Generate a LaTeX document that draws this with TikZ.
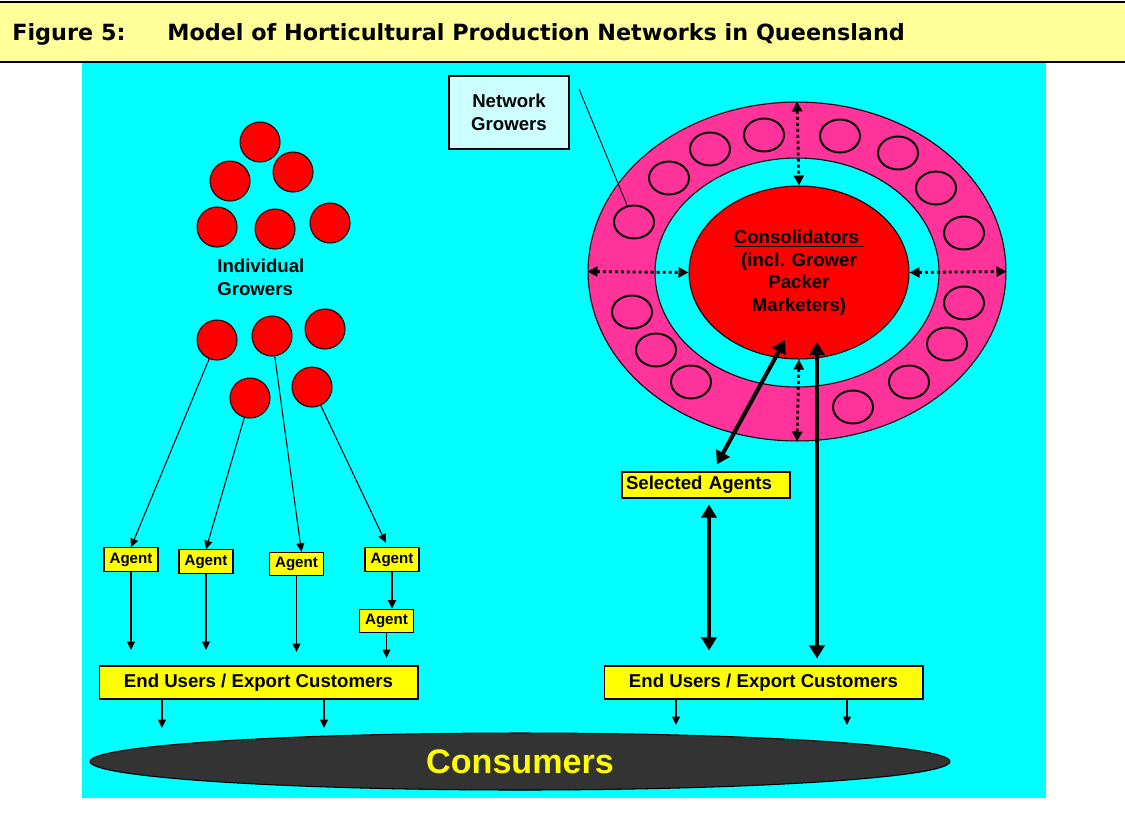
\documentclass[tikz,border=0pt]{standalone}
\usepackage{fontspec}
\setmainfont{Liberation Sans}
\newfontfamily\titlefont{DejaVu Sans}
\usetikzlibrary{shapes.geometric,arrows.meta}
\definecolor{titlebg}{HTML}{FFFF99}
\definecolor{panel}{HTML}{00FFFF}
\definecolor{ringpink}{HTML}{FF3399}
\definecolor{boxyellow}{HTML}{FFFF00}
\definecolor{notebg}{HTML}{CCFFFF}
\definecolor{consgrey}{HTML}{333333}

\begin{document}
\begin{tikzpicture}[x=0.02cm,y=-0.02cm,
    every node/.style={font=\bfseries\fontsize{10.6}{12.8}\selectfont},
    grower/.style={circle,draw,fill=red,minimum size=0.8cm,inner sep=0pt,line width=0.6pt},
    member/.style={ellipse,draw,line width=1.1pt,minimum width=0.8cm,minimum height=0.66cm,inner sep=0pt},
    agentbox/.style={draw,fill=boxyellow,minimum width=1.08cm,minimum height=0.47cm,inner sep=0pt,line width=0.6pt,
        font=\bfseries\fontsize{8.6}{10}\selectfont},
    userbox/.style={draw,fill=boxyellow,minimum width=6.38cm,minimum height=0.66cm,inner sep=0pt,line width=0.6pt},
    thinarr/.style={line width=0.6pt,-{Triangle[length=0.17cm,width=0.16cm]}},
    bigarr/.style={line width=2.3pt,{Triangle[length=0.26cm,width=0.3cm]}-{Triangle[length=0.26cm,width=0.3cm]}},
    dotarr/.style={line width=1.6pt,dash pattern=on 1.7pt off 1.7pt,
        {Triangle[length=0.2cm,width=0.2cm]}-{Triangle[length=0.2cm,width=0.2cm]}}]
    \useasboundingbox (0,0) rectangle (1125,825);
    \fill[titlebg] (0,2) rectangle (1125,62);
    \fill[panel] (82,62) rectangle (1046,798);
    \draw[line width=1.7pt] (0,2) -- (1125,2);
    \draw[line width=1.2pt] (0,62) -- (1125,62);
    \node[anchor=base west,inner sep=0pt,font=\titlefont\bfseries\fontsize{12.7}{15}\selectfont] (fig) at (12,40) {Figure 5:};
    \node[anchor=base west,inner sep=0pt,font=\titlefont\bfseries\fontsize{12.7}{15}\selectfont] (caption) at (167,40)
        {Model of Horticultural Production Networks in Queensland};

    \foreach \x/\y [count=\i] in {260/142,293/172,230/181,217/227,275/229,330/223,217/340,272/336,325/329,250/398,312/387}
        \node[grower] (g\i) at (\x,\y) {};
    \node[anchor=west,align=left,inner sep=0pt] (lbl) at (217,277.5) {Individual\\Growers};

    \node[agentbox] (a1) at (131,559.5) {Agent};
    \node[agentbox] (a2) at (206,561.5) {Agent};
    \node[agentbox] (a3) at (296.5,564) {Agent};
    \node[agentbox] (a4) at (392,559.5) {Agent};
    \node[agentbox] (a5) at (386.5,621) {Agent};
    \node[userbox] (eu1) at (258.5,682.5) {End Users / Export Customers};
    \node[userbox] (eu2) at (763.5,682.5) {End Users / Export Customers};
    \node[ellipse,draw,fill=consgrey,minimum width=17.2cm,minimum height=1.14cm,line width=0.6pt,
        text=boxyellow,font=\bfseries\fontsize{19.4}{22}\selectfont] (consumers) at (520,761.5) {Consumers};

    \draw[thinarr] (g7) -- (a1.north);
    \draw[thinarr] (g10) -- (a2.north);
    \draw[thinarr] (g8) -- ([xshift=0.1cm]a3.north);
    \draw[thinarr,shorten >=0.1cm] (g11) -- ([xshift=-0.08cm]a4.north);
    \draw[thinarr] (a4.south) -- (a4.south |- a5.north);
    \coordinate (e1) at (131,650);
    \coordinate (e2) at (206,650);
    \coordinate (e3) at (296.5,652);
    \coordinate (e5) at (386.5,658);
    \draw[thinarr] (a1) -- (e1);
    \draw[thinarr] (a2) -- (e2);
    \draw[thinarr] (a3) -- (e3);
    \draw[thinarr] (a5) -- (e5);
    \coordinate (c1) at (162,728);
    \coordinate (c2) at (324,728);
    \coordinate (c3) at (676,725);
    \coordinate (c4) at (847,725);
    \draw[thinarr] (eu1.south -| c1) -- (c1);
    \draw[thinarr] (eu1.south -| c2) -- (c2);
    \draw[thinarr] (eu2.south -| c3) -- (c3);
    \draw[thinarr] (eu2.south -| c4) -- (c4);

    \node[ellipse,draw,fill=ringpink,minimum width=8.36cm,minimum height=6.78cm,line width=0.6pt] (ring) at (797,271.5) {};
    \node[ellipse,draw,fill=panel,minimum width=5.68cm,minimum height=4.58cm,line width=0.6pt] (gap) at (797,272.5) {};
    \foreach \x/\y [count=\i] in {764/135,840/136,710/149,898/153,669/178,936/188,634/222,964/233,
            632/312,964/303,656/350,947/344,691/382,909/382,853/407}
        \node[member] (n\i) at (\x,\y) {};
    \node[ellipse,draw,fill=red,minimum width=4.4cm,minimum height=3.46cm,align=center,inner sep=0pt,line width=0.6pt]
        (cons) at (799,272.5) {\underline{Consolidators\ }\\(incl. Grower\\Packer\\Marketers)};
    \draw[dotarr] (ring.north) -- (cons.north);
    \draw[dotarr] (cons.south) -- (ring.south);
    \draw[dotarr] (ring.west) -- (cons.west);
    \draw[dotarr] (cons.east) -- (ring.east);

    \node[draw,fill=notebg,minimum width=2.4cm,minimum height=1.46cm,align=center,line width=0.6pt] (note) at (509,112.5)
        {Network\\Growers};
    \coordinate (nt) at (579,89);
    \draw[line width=0.5pt] (nt) -- (n7);

    \node[draw,fill=boxyellow,text width=3.2cm,align=left,inner xsep=0.08cm,inner ysep=0pt,minimum height=0.52cm,
        line width=0.6pt] (sel) at (706,485) {Selected Agents};
    \coordinate (d1) at (785,340);
    \coordinate (up) at (817,342);
    \coordinate (s0) at ([xshift=0.06cm]sel.south);
    \draw[bigarr,shorten >=0.16cm] (d1) -- ([xshift=0.14cm]sel.north);
    \draw[bigarr,shorten >=0.14cm] (up) -- (up |- eu2.north);
    \draw[bigarr,shorten <=0.12cm,shorten >=0.3cm] (s0) -- (s0 |- eu2.north);
\end{tikzpicture}
\end{document}
